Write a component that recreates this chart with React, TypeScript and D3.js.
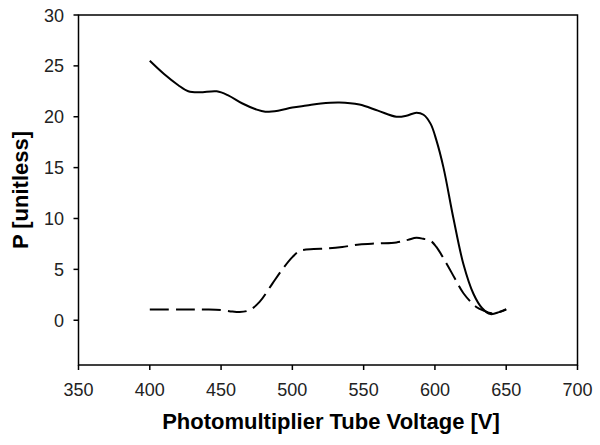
import React from "react";
import * as d3 from "d3";

const xTicks = [350, 400, 450, 500, 550, 600, 650, 700];
const yTicks = [0, 5, 10, 15, 20, 25, 30];

const solidV = [400, 410, 420, 427, 435, 447, 455, 465, 475, 481, 490, 500, 510, 520, 533, 547, 560, 573, 580, 587, 592, 597, 601, 606, 613, 620, 627, 633, 639, 645, 650];
const solidP = [25.5, 24.2, 23.1, 22.5, 22.4, 22.5, 22.1, 21.3, 20.7, 20.5, 20.6, 20.9, 21.1, 21.3, 21.4, 21.2, 20.6, 20.0, 20.1, 20.4, 20.2, 19.3, 17.7, 15.0, 10.0, 5.5, 2.6, 1.2, 0.6, 0.8, 1.1];

const dashV = [400, 420, 440, 450, 458, 463, 470, 477, 486, 493, 500, 505, 515, 524, 535, 547, 560, 573, 581, 587, 592, 597, 601, 608, 614, 620, 629, 635, 639, 645, 650];
const dashP = [1.05, 1.05, 1.05, 1.0, 0.85, 0.8, 1.0, 1.8, 3.6, 5.0, 6.2, 6.8, 7.0, 7.05, 7.2, 7.45, 7.55, 7.65, 7.9, 8.1, 8.0, 7.8, 7.2, 5.6, 4.1, 2.65, 1.3, 0.9, 0.7, 0.8, 1.05];

export default function App() {
  const W = 600, H = 445;
  const left = 78.5, right = 577.5, top = 15, bottom = 365;
  const x = d3.scaleLinear().domain([350, 700]).range([left, right]);
  const y = d3.scaleLinear().domain([-4.4, 30]).range([bottom, top]);
  const line = d3.line<[number, number]>()
    .x(d => x(d[0]))
    .y(d => y(d[1]))
    .curve(d3.curveCatmullRom.alpha(0.5));
  const solid = solidV.map((v, i) => [v, solidP[i]] as [number, number]);
  const dashed = dashV.map((v, i) => [v, dashP[i]] as [number, number]);
  const font = "'Liberation Sans', Arial, sans-serif";
  return (
    <svg width={W} height={H} style={{ position: "absolute", left: 0, top: 0, background: "#fff" }} fontFamily={font}>
      <rect x={0} y={0} width={W} height={H} fill="#fff" />
      <rect x={left} y={top} width={right - left} height={bottom - top} fill="none" stroke="#000" strokeWidth={1.5} />
      {xTicks.map(t => (
        <g key={"x" + t}>
          <line x1={x(t)} x2={x(t)} y1={bottom} y2={bottom + 5} stroke="#000" strokeWidth={1.5} />
          <text x={x(t)} y={396} textAnchor="middle" fontSize={18} fill="#222">{t}</text>
        </g>
      ))}
      {yTicks.map(t => (
        <g key={"y" + t}>
          <line x1={left - 5} x2={left} y1={y(t)} y2={y(t)} stroke="#000" strokeWidth={1.5} />
          <text x={64} y={y(t) + 6.5} textAnchor="end" fontSize={18} fill="#222">{t}</text>
        </g>
      ))}
      <path d={line(solid) || ""} fill="none" stroke="#000" strokeWidth={2} />
      <path d={line(dashed) || ""} fill="none" stroke="#000" strokeWidth={2} strokeDasharray="19,7" />
      <text x={(left + right) / 2 + 3} y={429} textAnchor="middle" fontSize={22} fontWeight="bold" fill="#000">Photomultiplier Tube Voltage [V]</text>
      <text transform={`translate(28, ${(top + bottom) / 2}) rotate(-90)`} textAnchor="middle" fontSize={22} fontWeight="bold" fill="#000">P [unitless]</text>
    </svg>
  );
}
